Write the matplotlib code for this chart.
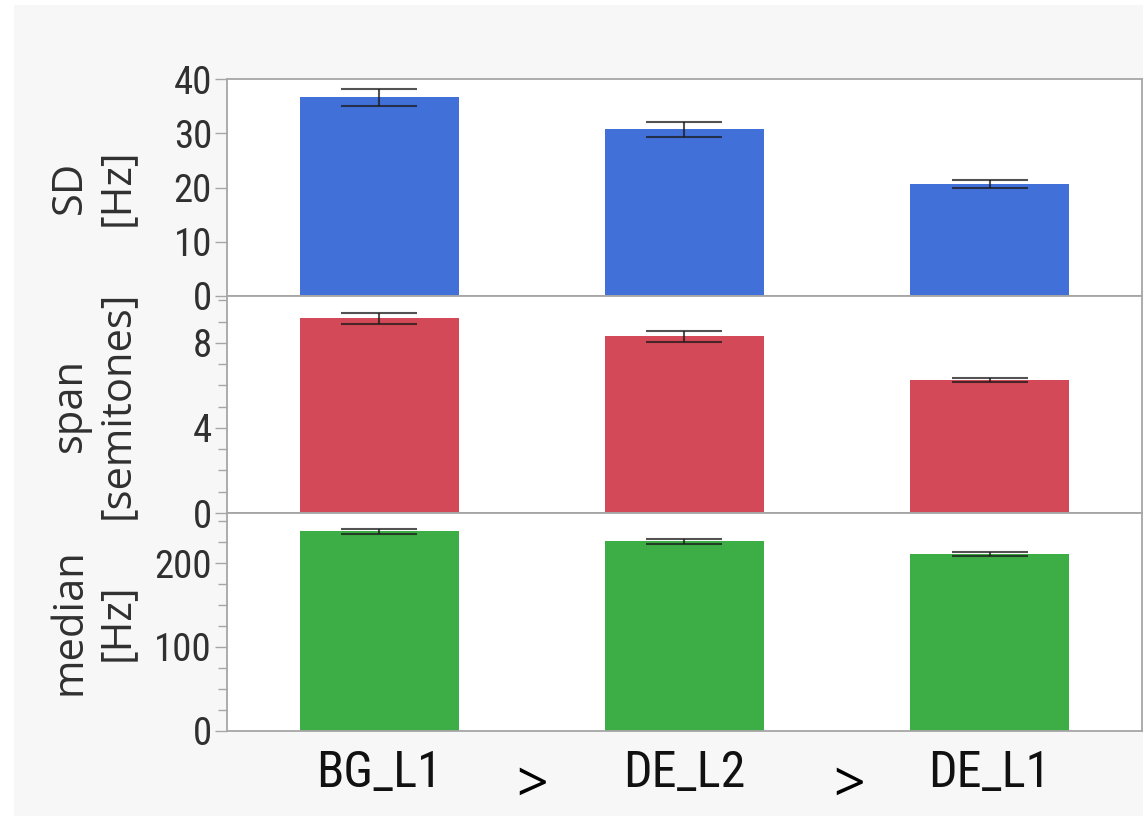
import matplotlib
matplotlib.use("Agg")
import matplotlib.pyplot as plt
from matplotlib.patches import Rectangle
from matplotlib.ticker import MultipleLocator
from matplotlib.transforms import blended_transform_factory

# Groups along the x axis, ordered from highest to lowest
groups = ["BG_L1", "DE_L2", "DE_L1"]

# Pitch measures: mean and standard error per group
sd_hz = [36.6, 30.7, 20.6]
sd_err = [1.5, 1.3, 0.7]

span_st = [9.15, 8.3, 6.25]
span_err = [0.25, 0.25, 0.08]

median_hz = [238, 226, 211]
median_err = [3.0, 2.5, 2.5]

row_labels = ["SD\n[Hz]", "span\n[semitones]", "median\n[Hz]"]
row_colors = ["#4270D9", "#D34957", "#3DAD46"]
row_ylims = [40, 10.2, 260]
row_major = [10, 4, 100]
row_minor = [None, 1, 25]

narrow = ["Roboto Condensed", "Liberation Sans Narrow", "Open Sans Condensed",
          "Roboto", "DejaVu Sans"]
regular = ["Open Sans", "Liberation Sans", "DejaVu Sans"]
plt.rcParams["font.family"] = narrow

W, H = 1143, 816
fig = plt.figure(figsize=(W / 100, H / 100), dpi=100, facecolor="white")
fig.patches.append(Rectangle((14 / W, 0), 1 - 14 / W, 1 - 5 / H,
                             transform=fig.transFigure, facecolor="#F7F7F7",
                             edgecolor="none", zorder=-10))

left = 226.7 / W
width = (1142.3 - 226.7) / W
edges_px = [79, 296, 513, 730.7]

frame_col = "#A6A6A6"
text_col = "#303030"

values = [sd_hz, span_st, median_hz]
errors = [sd_err, span_err, median_err]
x = list(range(len(groups)))

axes = []
for i in range(3):
    top_px, bot_px = edges_px[i], edges_px[i + 1]
    ax = fig.add_axes([left, 1 - bot_px / H, width, (bot_px - top_px) / H])
    axes.append(ax)
    ax.set_facecolor("white")
    ax.bar(x, values[i], width=0.52, color=row_colors[i], zorder=2)
    ax.errorbar(x, values[i], yerr=errors[i], fmt="none",
                ecolor=(0.1, 0.1, 0.1, 0.75), elinewidth=1.5,
                capsize=27.7, capthick=1.5, zorder=3)
    ax.set_xlim(-0.5, 2.5)
    ax.set_ylim(0, row_ylims[i])
    ax.yaxis.set_major_locator(MultipleLocator(row_major[i]))
    if row_minor[i]:
        ax.yaxis.set_minor_locator(MultipleLocator(row_minor[i]))
    for s in ax.spines.values():
        s.set_color(frame_col)
        s.set_linewidth(1.3)
    ax.tick_params(axis="y", which="major", length=8.5, width=1.0,
                   color=frame_col, labelsize=28, labelcolor=text_col, pad=2)
    ax.tick_params(axis="y", which="minor", length=6.5, width=1.0,
                   color=frame_col)
    ax.tick_params(axis="x", length=0)
    if i < 2:
        ax.set_xticks([])
    trans = blended_transform_factory(fig.transFigure, ax.transAxes)
    ax.text(93 / W, 0.5, row_labels[i], transform=trans, rotation=90,
            ha="center", va="center", multialignment="center",
            fontsize=30, color=text_col, family=regular, linespacing=1.15)

bottom = axes[-1]
bottom.set_xticks(x)
bottom.set_xticklabels(groups, fontsize=36, color="#111111")
bottom.tick_params(axis="x", pad=13)

# Ordering signs between the groups
for xs in [0.5, 1.54]:
    bottom.annotate(">", xy=(xs, 0), xycoords=("data", "axes fraction"),
                    xytext=(0, -41), textcoords="offset points",
                    ha="center", va="center", fontsize=40, color="black",
                    family=regular)

fig.savefig("out.png", dpi=100, facecolor=fig.get_facecolor())
